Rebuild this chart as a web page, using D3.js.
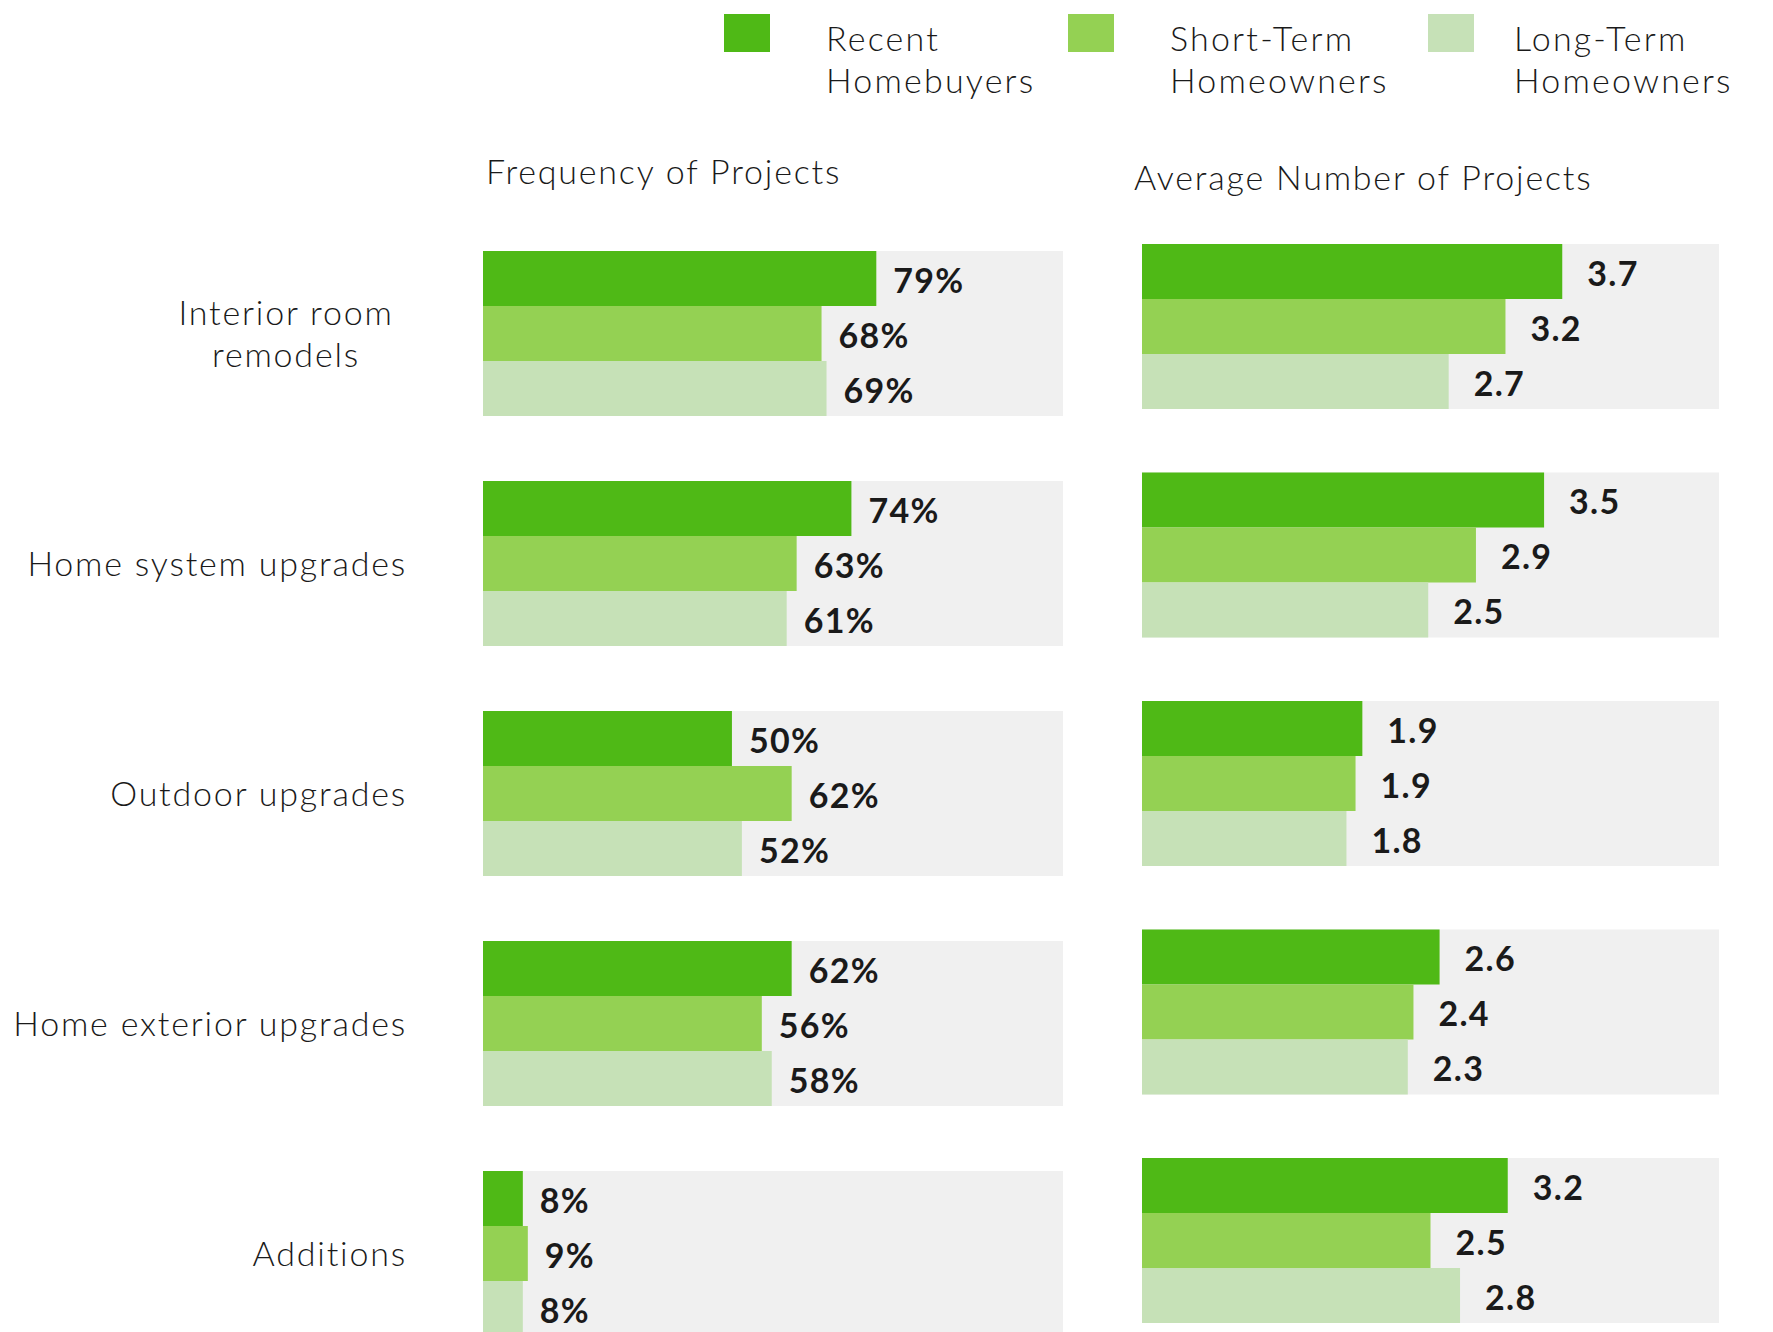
<!DOCTYPE html>
<html>
<head>
<meta charset="utf-8">
<script src="https://cdn.jsdelivr.net/npm/d3@7"></script>
<style>
  body { margin: 0; background: #fff; }
  svg text { font-family: Lato, "Open Sans", sans-serif; fill: #1a1a1a; }
</style>
</head>
<body>
<div id="chart"></div>
<script>
// categories and series
const categories = ["Interior room remodels", "Home system upgrades", "Outdoor upgrades", "Home exterior upgrades", "Additions"];
const categoryLines = [["Interior room", "remodels"], ["Home system upgrades"], ["Outdoor upgrades"], ["Home exterior upgrades"], ["Additions"]];
const series = ["Recent Homebuyers", "Short-Term Homeowners", "Long-Term Homeowners"];
const legendLines = [["Recent", "Homebuyers"], ["Short-Term", "Homeowners"], ["Long-Term", "Homeowners"]];
const colors = ["#4fb916", "#94d153", "#c6e1b7"];

// frequency of projects (%), one row per category, one value per series
const frequency = [
  [79, 68, 69],
  [74, 63, 61],
  [50, 62, 52],
  [62, 56, 58],
  [8, 9, 8]
];
// average number of projects
const average = [
  [3.7, 3.2, 2.7],
  [3.54, 2.94, 2.52],
  [1.94, 1.88, 1.8],
  [2.62, 2.39, 2.34],
  [3.22, 2.54, 2.8]
];

const width = 1773, height = 1332;

const svg = d3.select('#chart')
  .append('svg')
  .attr('width', width)
  .attr('height', height);

function lightText(sel) {
  return sel.style('font-size', '34px')
    .style('font-weight', 300)
    .style('letter-spacing', '1.8px');
}

// legend
const legend = svg.append('g');
const legendX = [724, 1068, 1428];
const legendTextX = [826, 1170, 1514];
series.forEach((s, i) => {
  legend.append('rect')
    .attr('x', legendX[i]).attr('y', 14)
    .attr('width', 46).attr('height', 38)
    .attr('fill', colors[i]);
  const t = legend.append('text')
    .attr('x', legendTextX[i])
    .attr('y', 51)
    .call(lightText)
    .style('letter-spacing', '2.2px');
  legendLines[i].forEach((line, j) => {
    t.append('tspan').attr('x', legendTextX[i]).attr('dy', j === 0 ? 0 : 42).text(line);
  });
});

// one panel = title + gray backgrounds + bars + labels
function panel(opts) {
  const g = svg.append('g');
  const y = d3.scaleBand()
    .domain(categories)
    .range([opts.top, opts.top + 4 * opts.step + 165])
    .paddingInner(1 - 165 / opts.step)
    .paddingOuter(0);
  const ys = d3.scaleBand()
    .domain(series)
    .range([0, y.bandwidth()]);
  const x = d3.scaleLinear()
    .domain([0, opts.max])
    .range([opts.left, opts.left + opts.width]);

  g.append('text')
    .attr('x', opts.titleX)
    .attr('y', opts.titleY)
    .call(lightText)
    .text(opts.title);

  const groups = g.selectAll('.grp')
    .data(opts.data)
    .enter()
    .append('g')
      .attr('class', 'grp')
      .attr('transform', (d, i) => `translate(0,${y(categories[i])})`);

  groups.append('rect')
    .attr('x', x(0))
    .attr('y', 0)
    .attr('width', x(opts.max) - x(0))
    .attr('height', y.bandwidth())
    .attr('fill', '#f0f0f0');

  groups.selectAll('.bar')
    .data(d => d)
    .enter()
    .append('rect')
      .attr('class', 'bar')
      .attr('x', x(0))
      .attr('y', (d, i) => ys(series[i]))
      .attr('width', d => x(d) - x(0))
      .attr('height', ys.bandwidth())
      .attr('fill', (d, i) => colors[i]);

  groups.selectAll('.val')
    .data(d => d)
    .enter()
    .append('text')
      .attr('class', 'val')
      .attr('x', d => x(d) + opts.labelGap)
      .attr('y', (d, i) => ys(series[i]) + ys.bandwidth() / 2)
      .attr('dy', '0.42em')
      .style('font-size', '34px')
      .style('font-weight', 700)
      .style('letter-spacing', '1.3px')
      .text(opts.fmt);

  return y;
}

const yLeft = panel({
  title: 'Frequency of Projects', titleX: 486, titleY: 184,
  data: frequency, top: 251, step: 230,
  left: 483, width: 580, max: 116.5, labelGap: 17,
  fmt: d => d + '%'
});

panel({
  title: 'Average Number of Projects', titleX: 1134, titleY: 190,
  data: average, top: 244, step: 228.5,
  left: 1142, width: 577, max: 5.08, labelGap: 25,
  fmt: d3.format('.1f')
});

// category labels
svg.selectAll('.cat')
  .data(categories)
  .enter()
  .append('text')
    .attr('class', 'cat')
    .attr('text-anchor', (d, i) => i === 0 ? 'middle' : 'end')
    .attr('x', (d, i) => i === 0 ? 286 : 407)
    .attr('y', d => yLeft(d) + yLeft.bandwidth() / 2)
    .call(lightText)
    .each(function(d, i) {
      const lines = categoryLines[i];
      const t = d3.select(this);
      lines.forEach((line, j) => {
        t.append('tspan')
          .attr('x', i === 0 ? 286 : 407)
          .attr('dy', j === 0 ? (0.36 - (lines.length - 1) * 0.62) + 'em' : '1.24em')
          .text(line);
      });
    });
</script>
</body>
</html>
